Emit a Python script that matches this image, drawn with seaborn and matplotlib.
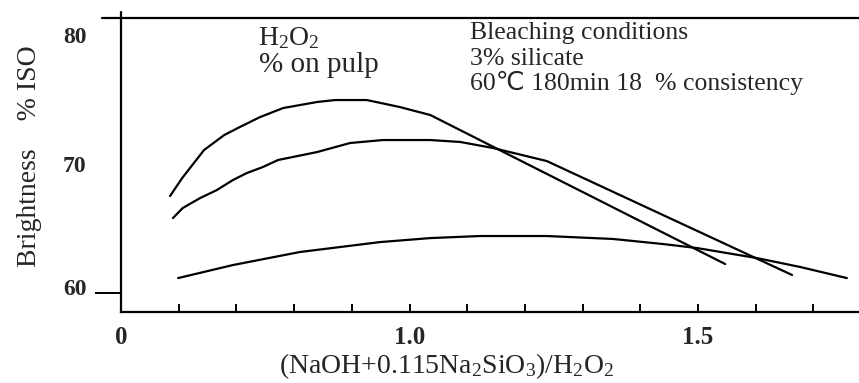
import numpy as np
import pandas as pd
import seaborn as sns
import matplotlib
matplotlib.use("Agg")
import matplotlib.pyplot as plt
from matplotlib.transforms import ScaledTranslation

# ---- data ----
x_a = [0.585, 0.606, 0.644, 0.679, 0.706, 0.741, 0.781, 0.840, 0.871, 0.926, 0.983, 1.036, 1.547]
y_a = [67.52, 68.91, 71.09, 72.25, 72.87, 73.64, 74.34, 74.81, 74.96, 74.96, 74.42, 73.80, 62.25]

x_b = [0.590, 0.607, 0.637, 0.666, 0.694, 0.718, 0.746, 0.772, 0.840, 0.897, 0.954, 1.036,
       1.088, 1.145, 1.238, 1.663]
y_b = [65.81, 66.59, 67.36, 67.98, 68.76, 69.30, 69.77, 70.31, 70.93, 71.63, 71.86, 71.86,
       71.71, 71.24, 70.23, 61.40]

x_c = [0.599, 0.694, 0.810, 0.949, 1.036, 1.122, 1.238, 1.353, 1.439, 1.498, 1.602, 1.677, 1.758]
y_c = [61.16, 62.17, 63.18, 63.95, 64.26, 64.42, 64.42, 64.19, 63.80, 63.49, 62.71, 62.02, 61.16]

x_ticks = [0.5, 0.6, 0.7, 0.8, 0.9, 1.0, 1.1, 1.2, 1.3, 1.4, 1.5, 1.6, 1.7]
x_tick_labels = ["0", "", "", "", "", "1.0", "", "", "", "", "1.5", "", ""]
y_ticks = [60, 70, 80]
y_tick_labels = ["60", "70", "80"]

df = pd.concat([
    pd.DataFrame({"x": x_a, "y": y_a, "series": "A"}),
    pd.DataFrame({"x": x_b, "y": y_b, "series": "B"}),
    pd.DataFrame({"x": x_c, "y": y_c, "series": "C"}),
], ignore_index=True)

# ---- style ----
sns.set_style("white")
plt.rcParams["font.family"] = ["Liberation Serif", "DejaVu Sans"]
plt.rcParams["mathtext.fontset"] = "custom"
plt.rcParams["mathtext.rm"] = "Liberation Serif"
plt.rcParams["mathtext.it"] = "Liberation Serif:italic"
plt.rcParams["mathtext.bf"] = "Liberation Serif:bold"

W, H = 859, 383
fig = plt.figure(figsize=(W / 100, H / 100), dpi=100)
ax = fig.add_axes([121 / W, 1 - 312 / H, (859 - 121) / W, (312 - 18) / H])

sns.lineplot(data=df, x="x", y="y", hue="series", units="series", estimator=None,
             palette=["black", "black", "black"], legend=False, sort=False,
             linewidth=1.6, ax=ax)

ax.set_xlim(0.5, 1.779)
ax.set_ylim(58.53, 81.32)

# spines
for s in ["left", "bottom", "top"]:
    ax.spines[s].set_visible(True)
    ax.spines[s].set_color("black")
    ax.spines[s].set_linewidth(1.6)
ax.spines["right"].set_visible(False)
# small extensions of the frame lines
ax.plot([-19 / 738, 0], [1, 1], transform=ax.transAxes, color="black", lw=1.6, clip_on=False)
ax.plot([0, 0], [1, 1 + 6 / 294], transform=ax.transAxes, color="black", lw=1.6, clip_on=False)

# x ticks
ax.set_xticks(x_ticks)
ax.set_xticklabels(x_tick_labels, fontsize=18, fontweight="bold")
ax.tick_params(axis="x", direction="in", length=5.8, width=1.4, pad=10, color="black",
               bottom=True)
ax.xaxis.get_major_ticks()[0].tick1line.set_visible(False)

# y ticks
ax.set_yticks(y_ticks)
ax.set_yticklabels(y_tick_labels, fontsize=17, fontweight="bold")
ax.tick_params(axis="y", direction="out", length=18.7, width=1.4, pad=6, color="black",
               left=True)
yt = ax.yaxis.get_major_ticks()
yt[1].tick1line.set_visible(False)
yt[2].tick1line.set_visible(False)
lab60 = ax.get_yticklabels()[0]
lab60.set_transform(lab60.get_transform() + ScaledTranslation(0, 6 / 100, fig.dpi_scale_trans))

# axis labels
ax.set_xlabel(r"(NaOH+0.115Na$_2$SiO$_3$)/H$_2$O$_2$", fontsize=20)
ax.xaxis.set_label_coords((447 - 121) / 738, (312 - 366) / 294)
ax.xaxis.label.set_va("center")
ax.set_ylabel("Brightness    % ISO", fontsize=20)
ax.yaxis.set_label_coords((30 - 121) / 738, (312 - 156) / 294)
ax.yaxis.label.set_va("center")

# annotations
def ftext(px, py, s, **kw):
    fig.text(px / W, 1 - py / H, s, va="baseline", ha="left", **kw)

ftext(258, 45, r"H$_2$O$_2$", fontsize=20)
ftext(259, 72, "% on pulp", fontsize=21)
ftext(470, 39, "Bleaching conditions", fontsize=18.5)
ftext(470, 65, "3% silicate", fontsize=18.5)
ftext(470, 90, "60\u2103 180min 18  % consistency", fontsize=18.5,
      family=["Liberation Serif", "DejaVu Sans", "Noto Sans CJK SC"])

fig.savefig("out.png", dpi=100)
